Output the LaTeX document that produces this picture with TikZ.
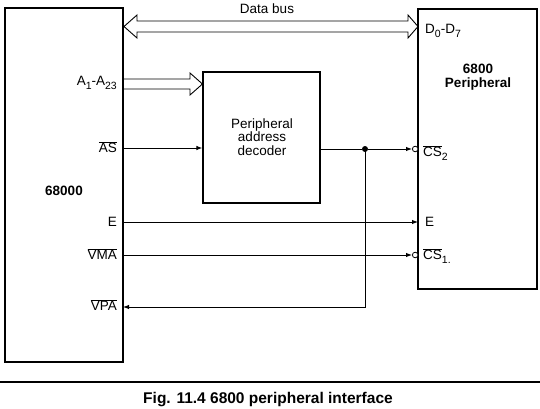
\documentclass[tikz,border=0pt]{standalone}
\usepackage{fontspec}
\setmainfont{Liberation Sans}
\usetikzlibrary{arrows.meta}
\newcommand{\ovl}[1]{$\overline{\mbox{#1}}$}
\newcommand{\sbs}[1]{\raisebox{-3.5pt}{\fontsize{10.5}{12}\selectfont #1}}
\begin{document}
\begin{tikzpicture}[x=1pt,y=-1pt,
  box/.style={draw,line width=1.1pt},
  lbl/.style={inner sep=0pt,font=\fontsize{13.5}{15}\selectfont},
  blbl/.style={inner sep=0pt,font=\fontsize{13.5}{15}\selectfont\bfseries},
  wire/.style={line width=1pt},
  sig/.style={wire,-{Latex[length=6pt,width=4.5pt]}},
  bus/.style={line width=0.9pt,line join=miter},
  inv/.style={draw,line width=0.8pt,fill=white,circle,inner sep=0pt,minimum size=5.6pt},
  dot/.style={fill,circle,inner sep=0pt,minimum size=6pt}]
\useasboundingbox (0,0) rectangle (540,409);
% boxes
\draw[box] (5,8) rectangle (123,362);
\draw[box] (418,9) rectangle (537,289);
\node[box,minimum width=117pt,minimum height=131pt,inner sep=0pt] (dec) at (261.5,137.5) {};
\node[lbl,align=center] (dectxt) at (262,137) {Peripheral\\[-1.5pt]address\\[-1.5pt]decoder};
% data bus
\node[lbl] (dbus) at (267,9) {Data bus};
\draw[bus] (124,26.5) -- (137,15) -- (137,21) -- (408,21) -- (408,15) -- (418,26.5)
  -- (408,38) -- (408,32) -- (137,32) -- (137,38) -- cycle;
% address bus
\draw[bus] (123,79) -- (190,79) -- (190,73) -- (dec.west |- 0,84) -- (190,95) -- (190,89) -- (123,89);
% cpu labels
\node[lbl,anchor=east] (a) at (117,83) {A\sbs{1}-A\sbs{23}};
\node[lbl,anchor=east] (as) at (117,147) {\ovl{AS}};
\node[blbl] (cpu) at (64,191) {68000};
\node[lbl,anchor=east] (e) at (117,222) {E};
\node[lbl,anchor=east] (vma) at (117,254) {\ovl{VMA}};
\node[lbl,anchor=east] (vpa) at (117,305) {\ovl{VPA}};
% peripheral labels
\node[lbl,anchor=west] (dd) at (425,31) {D\sbs{0}-D\sbs{7}};
\node[blbl,align=center] (per) at (478,77) {6800\\[-1pt]Peripheral};
\node[lbl,anchor=west] (cs2) at (423,153) {\ovl{CS}\sbs{2}};
\node[lbl,anchor=west] (pe) at (425,222) {E};
\node[lbl,anchor=west] (cs1) at (423,256) {\ovl{CS}\sbs{1.}};
% signals
\coordinate (asS) at (123,148);
\draw[sig] (asS) -- (dec.west |- asS);
\node[dot] (j) at (365,149) {};
\node[inv] (c2) at (415.2,149) {};
\node[inv] (c1) at (415.2,255) {};
\draw[wire] (dec.east |- j) -- (j);
\draw[sig] (j) -- (c2.west);
\coordinate (vpaT) at (123,307);
\draw[sig] (j.center) -- (j |- vpaT) -- (vpaT);
\coordinate (eS) at (123,222);
\draw[sig] (eS) -- (418,222);
\coordinate (vmaS) at (123,255);
\draw[sig] (vmaS) -- (c1.west);
% caption
\draw[line width=1.2pt] (0,382) -- (540,382);
\node[inner sep=0pt,font=\fontsize{15.5}{17}\selectfont\bfseries] (cap) at (268,400) {Fig. 11.4 6800 peripheral interface};
\end{tikzpicture}
\end{document}
